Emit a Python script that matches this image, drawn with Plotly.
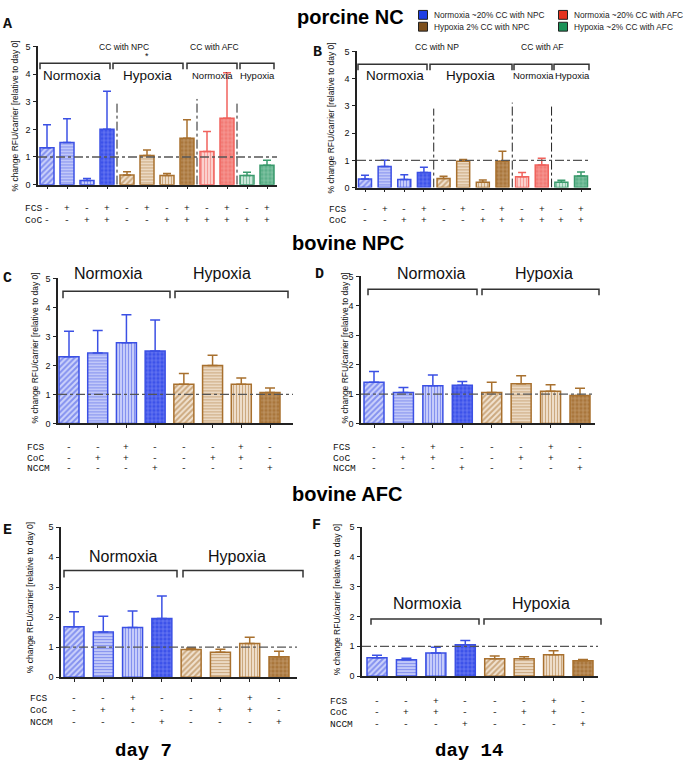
import plotly.graph_objects as go

W, H = 685, 768

# ---------------- data ----------------
A_mean = [1.33, 1.52, 0.15, 2.00, 0.35, 1.05, 0.33, 1.68, 1.20, 2.40, 0.33, 0.70]
A_sd   = [0.84, 0.86, 0.07, 1.38, 0.12, 0.20, 0.07, 0.67, 0.72, 1.65, 0.12, 0.18]
B_mean = [0.32, 0.77, 0.30, 0.55, 0.33, 0.97, 0.20, 0.97, 0.40, 0.83, 0.20, 0.43]
B_sd   = [0.13, 0.23, 0.17, 0.20, 0.09, 0.06, 0.08, 0.36, 0.15, 0.25, 0.07, 0.14]
C_mean = [2.30, 2.43, 2.78, 2.50, 1.35, 2.00, 1.35, 1.07]
C_sd   = [0.88, 0.77, 0.97, 1.07, 0.37, 0.35, 0.22, 0.15]
D_mean = [1.40, 1.05, 1.28, 1.30, 1.05, 1.35, 1.10, 0.95]
D_sd   = [0.37, 0.17, 0.37, 0.13, 0.35, 0.27, 0.22, 0.25]
E_mean = [1.68, 1.50, 1.65, 1.95, 0.92, 0.83, 1.12, 0.68]
E_sd   = [0.50, 0.53, 0.55, 0.75, 0.05, 0.10, 0.21, 0.18]
F_mean = [0.62, 0.55, 0.78, 1.05, 0.58, 0.58, 0.72, 0.52]
F_sd   = [0.08, 0.05, 0.19, 0.15, 0.10, 0.07, 0.13, 0.04]

porcine_groups = ["NPC_norm"] * 4 + ["NPC_hyp"] * 4 + ["AFC_norm"] * 2 + ["AFC_hyp"] * 2
bovine_groups = ["NPC_norm"] * 4 + ["NPC_hyp"] * 4
porcine_patterns = ["/", "-", "|", "+", "/", "-", "|", "+", "|", "+", "|", "+"]
bovine_patterns = ["/", "-", "|", "+", "/", "-", "|", "+"]

porcine_FCS = ["-", "+", "-", "+", "-", "+", "-", "+", "-", "+", "-", "+"]
porcine_CoC = ["-", "-", "+", "+", "-", "-", "+", "+", "+", "+", "+", "+"]
bovine_FCS = ["-", "-", "+", "-", "-", "-", "+", "-"]
bovine_CoC = ["-", "+", "+", "-", "-", "+", "+", "-"]
bovine_NCCM = ["-", "-", "-", "+", "-", "-", "-", "+"]

legend_labels = ["Normoxia ~20% CC with NPC", "Hypoxia 2% CC with NPC",
                 "Normoxia ~20% CC with AFC", "Hypoxia ~2% CC with AFC"]
legend_groups = ["NPC_norm", "NPC_hyp", "AFC_norm", "AFC_hyp"]

# ---------------- styles ----------------
STYLE = {
    "NPC_norm": dict(edge="#3b50e4", light="#cdd3fb", dark="#3c52ea", fgdark="#b4bfff", legend="#1f3fe6"),
    "NPC_hyp": dict(edge="#a8702e", light="#f1e3d1", dark="#a9763c", fgdark="#e6cdad", legend="#7c4f1c"),
    "AFC_norm": dict(edge="#f0625c", light="#fcd6d3", dark="#f27b75", fgdark="#fdd0cd", legend="#e6331f"),
    "AFC_hyp": dict(edge="#3a9a6c", light="#d3ebdf", dark="#5cb089", fgdark="#cbe9d9", legend="#1b9157"),
}
PAT_SIZE = {"/": 4, "-": 3, "|": 3, "+": 4}
PAT_SOL = {"/": 0.5, "-": 0.45, "|": 0.4, "+": 0.3}
AX = "#222222"
FONT = "Liberation Sans, Arial, sans-serif"
MONO = "Liberation Mono, Courier New, monospace"

# panel geometry in pixels: axis left/right, y(5) and y(0), first/last bar centre
GEO = {
    "A": dict(x0=38, x1=277, ytop=42, ybot=182, c1=47, cn=267, bw=14),
    "B": dict(x0=357, x1=591, ytop=47, ybot=185, c1=365, cn=581, bw=13),
    "C": dict(x0=58, x1=293, ytop=277, ybot=424, c1=69, cn=270, bw=20),
    "D": dict(x0=361, x1=595, ytop=275, ybot=424, c1=374, cn=580, bw=20),
    "E": dict(x0=61, x1=297, ytop=529, ybot=681, c1=74, cn=279, bw=20),
    "F": dict(x0=362, x1=598, ytop=529, ybot=680, c1=377, cn=583, bw=20),
}

PANELS = [
    ("A", A_mean, A_sd, porcine_groups, porcine_patterns,
     [("FCS", porcine_FCS, 206), ("CoC", porcine_CoC, 218)], 23, (15, 113), (7, 20)),
    ("B", B_mean, B_sd, porcine_groups, porcine_patterns,
     [("FCS", porcine_FCS, 207), ("CoC", porcine_CoC, 218)], 327, (331, 115), (317, 48)),
    ("C", C_mean, C_sd, bovine_groups, bovine_patterns,
     [("FCS", bovine_FCS, 448), ("CoC", bovine_CoC, 459), ("NCCM", bovine_NCCM, 470)], 25, (35, 348), (8, 277)),
    ("D", D_mean, D_sd, bovine_groups, bovine_patterns,
     [("FCS", bovine_FCS, 448), ("CoC", bovine_CoC, 459), ("NCCM", bovine_NCCM, 470)], 331, (345, 348), (319, 273)),
    ("E", E_mean, E_sd, bovine_groups, bovine_patterns,
     [("FCS", bovine_FCS, 703), ("CoC", bovine_CoC, 715), ("NCCM", bovine_NCCM, 727)], 28, (30, 601), (7, 532)),
    ("F", F_mean, F_sd, bovine_groups, bovine_patterns,
     [("FCS", bovine_FCS, 706), ("CoC", bovine_CoC, 717), ("NCCM", bovine_NCCM, 729)], 328, (337, 603), (316, 527)),
]

BRACKETS = {
    "A": [(40, 110, 59, 65), (113, 183, 59, 65), (187, 237, 59, 65), (240, 274, 59, 65)],
    "B": [(358, 427, 60, 66), (430, 512, 60, 66), (514, 552, 60, 66), (554, 589, 60, 66)],
    "C": [(63, 170, 290, 297), (175, 288, 290, 297)],
    "D": [(368, 477, 288, 294), (482, 599, 288, 294)],
    "E": [(64, 177, 573, 580), (183, 303, 573, 580)],
    "F": [(371, 479, 622, 628), (484, 601, 622, 628)],
}
TEXTS = {
    "A": [("Normoxia", 72, 71, 13.5), ("Hypoxia", 147, 71, 13.5), ("Normoxia", 212, 71, 9.5),
          ("Hypoxia", 257, 71, 9.5), ("CC with NPC", 124, 43, 8.5), ("CC with AFC", 214, 43, 8.5),
          ("*", 147, 52, 9)],
    "B": [("Normoxia", 395, 71, 13.5), ("Hypoxia", 470, 71, 13.5), ("Normoxia", 533, 71, 9.5),
          ("Hypoxia", 572, 71, 9.5), ("CC with NP", 437, 43, 8.5), ("CC with AF", 542, 43, 8.5)],
    "C": [("Normoxia", 108, 272, 16), ("Hypoxia", 222, 272, 16)],
    "D": [("Normoxia", 431, 272, 16), ("Hypoxia", 544, 272, 16)],
    "E": [("Normoxia", 123, 559, 16), ("Hypoxia", 237, 559, 16)],
    "F": [("Normoxia", 427, 606, 16), ("Hypoxia", 541, 606, 16)],
}
# vertical separators (data x, data y top) for porcine panels
VLINES = {"A": [(4.5, 2.93), (8.5, 3.1), (10.5, 3.04)],
          "B": [(4.5, 2.9), (8.5, 3.12), (10.5, 3.08)]}


def px(x, y):
    return x / W, 1 - y / H


fig = go.Figure()
annotations = []
shapes = []
layout_axes = {}

for i, (name, mean, sd, groups, pats, rows, lab_x, ytitle, letter) in enumerate(PANELS, start=1):
    g = GEO[name]
    n = len(mean)
    step = (g["cn"] - g["c1"]) / (n - 1)
    left = 1 - (g["c1"] - g["x0"]) / step
    right = n + (g["x1"] - g["cn"]) / step
    xs = list(range(1, n + 1))
    xkey = "xaxis" if i == 1 else f"xaxis{i}"
    ykey = "yaxis" if i == 1 else f"yaxis{i}"
    xref = "x" if i == 1 else f"x{i}"
    yref = "y" if i == 1 else f"y{i}"

    for k in range(n):
        st = STYLE[groups[k]]
        pat = pats[k]
        dark = pat == "+"
        fig.add_trace(go.Bar(
            x=[xs[k]], y=[mean[k]],
            width=g["bw"] / step,
            marker=dict(color=st["dark"] if dark else st["light"],
                        line=dict(color=st["edge"], width=1.5),
                        pattern=dict(shape=pat, fgcolor=st["fgdark"] if dark else st["edge"],
                                     size=PAT_SIZE[pat], solidity=PAT_SOL[pat],
                                     fillmode="overlay")),
            error_y=dict(type="data", array=[sd[k]], arrayminus=[0],
                         symmetric=False, color=st["edge"], thickness=1.5,
                         width=4 if n > 8 else 5),
            xaxis=xref, yaxis=yref, showlegend=False, hoverinfo="skip",
        ))

    layout_axes[xkey] = dict(domain=[g["x0"] / W, g["x1"] / W], range=[left, right],
                             anchor=yref, showline=True, linecolor=AX, linewidth=1.5,
                             ticks="outside", ticklen=3, tickwidth=1, tickcolor=AX,
                             tickvals=xs, showticklabels=False, showgrid=False, zeroline=False,
                             fixedrange=True)
    layout_axes[ykey] = dict(domain=[1 - g["ybot"] / H, 1 - g["ytop"] / H], range=[0, 5],
                             anchor=xref, showline=True, linecolor=AX, linewidth=1.5,
                             ticks="outside", ticklen=3, tickwidth=1.2, tickcolor=AX,
                             tickvals=[0, 1, 2, 3, 4, 5], ticklabelstandoff=1,
                             tickfont=dict(family=FONT, size=9, color="#111"),
                             showgrid=False, zeroline=False, fixedrange=True)

    # reference line at 1
    shapes.append(dict(type="line", xref=f"{xref} domain", x0=0, x1=1, yref=yref, y0=1, y1=1,
                       line=dict(color="#555", width=1.3, dash="dashdot")))
    for vx, vtop in VLINES.get(name, []):
        shapes.append(dict(type="line", xref=xref, x0=vx, x1=vx, yref=yref, y0=0, y1=vtop,
                           line=dict(color="#222", width=1, dash="dashdot")))

    # brackets
    for bx0, bx1, byt, byb in BRACKETS[name]:
        X0, YT = px(bx0, byt)
        X1, YB = px(bx1, byb)
        shapes.append(dict(type="path", xref="paper", yref="paper",
                           path=f"M {X0},{YB} L {X0},{YT} L {X1},{YT} L {X1},{YB}",
                           line=dict(color="#333", width=1.5)))
    for txt, tx, ty, fs in TEXTS[name]:
        X, Y = px(tx, ty)
        annotations.append(dict(text=txt, x=X, y=Y, xref="paper", yref="paper",
                                xanchor="center", yanchor="middle", showarrow=False,
                                font=dict(family=FONT, size=fs, color="#111")))

    # +/- rows
    for lab, signs, ry in rows:
        X, Y = px(lab_x, ry)
        annotations.append(dict(text=lab, x=X, y=Y, xref="paper", yref="paper",
                                xanchor="left", yanchor="middle", showarrow=False,
                                font=dict(family=MONO, size=9.5, color="#111")))
        for k, s in enumerate(signs):
            annotations.append(dict(text=s, x=xs[k], y=Y, xref=xref, yref="paper",
                                    xanchor="center", yanchor="middle", showarrow=False,
                                    font=dict(family=MONO, size=9.5, color="#111")))

    # y title
    X, Y = px(*ytitle)
    annotations.append(dict(text="% change RFU/carrier [relative to day 0]", x=X, y=Y,
                            xref="paper", yref="paper", textangle=-90, showarrow=False,
                            xanchor="center", yanchor="middle",
                            font=dict(family=FONT, size=8.5, color="#111")))
    # panel letter
    X, Y = px(*letter)
    annotations.append(dict(text=f"<b>{name}</b>", x=X, y=Y, xref="paper", yref="paper",
                            showarrow=False, xanchor="center", yanchor="middle",
                            font=dict(family=MONO, size=15, color="#111")))

# section titles
for txt, tx, ty in [("porcine NC", 350, 12), ("bovine NPC", 348, 241), ("bovine AFC", 347, 495)]:
    X, Y = px(tx, ty)
    annotations.append(dict(text=f"<b>{txt}</b>", x=X, y=Y, xref="paper", yref="paper",
                            showarrow=False, xanchor="center", yanchor="middle",
                            font=dict(family=FONT, size=20, color="#000")))
for txt, tx in [("day 7", 143), ("day 14", 469)]:
    X, Y = px(tx, 756)
    annotations.append(dict(text=f"<b>{txt}</b>", x=X, y=Y, xref="paper", yref="paper",
                            showarrow=False, xanchor="center", yanchor="middle",
                            font=dict(family=MONO, size=19, color="#000")))

# legend
LEG_POS = [(423, 10), (423, 22), (563, 10), (563, 22)]
for lab, grp, (lx, ly) in zip(legend_labels, legend_groups, LEG_POS):
    X0, Y0 = px(lx - 4.5, ly - 4.5)
    X1, Y1 = px(lx + 4.5, ly + 4.5)
    shapes.append(dict(type="rect", xref="paper", yref="paper", x0=X0, x1=X1, y0=Y1, y1=Y0,
                       fillcolor=STYLE[grp]["legend"], line=dict(color="#222", width=1)))
    X, Y = px(lx + 9, ly)
    annotations.append(dict(text=lab, x=X, y=Y, xref="paper", yref="paper", showarrow=False,
                            xanchor="left", yanchor="middle",
                            font=dict(family=FONT, size=8.3, color="#222")))

fig.update_layout(width=W, height=H, margin=dict(l=0, r=0, t=0, b=0),
                  paper_bgcolor="white", plot_bgcolor="white", barmode="overlay",
                  showlegend=False, annotations=annotations, shapes=shapes, **layout_axes)

fig.write_html("out.html", config={"displayModeBar": False},
               post_script="document.body.style.margin='0';document.body.style.padding='0';"
                           "document.body.style.overflow='hidden';")
